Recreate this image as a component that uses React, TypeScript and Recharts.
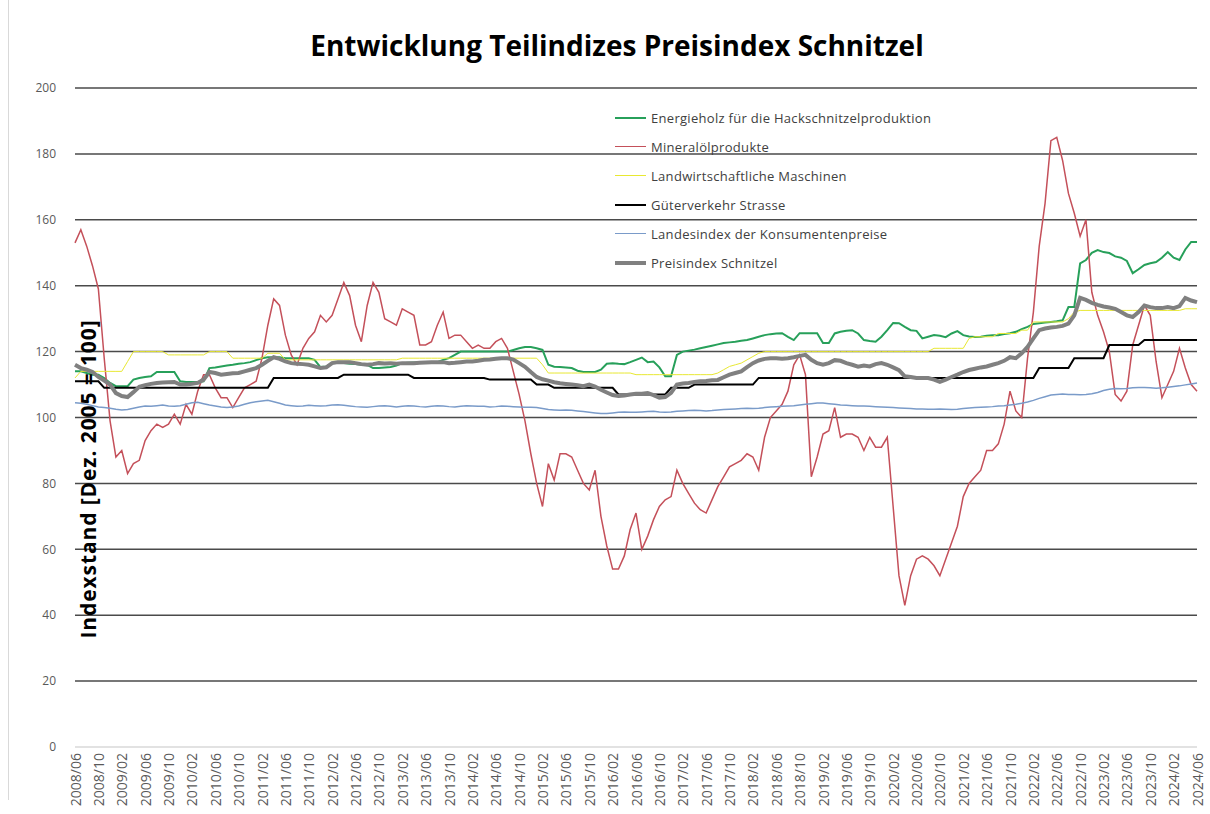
import { CartesianGrid, Line, LineChart, XAxis, YAxis } from 'recharts';

const FONT = '"Open Sans", "Liberation Sans", sans-serif';

// monthly categories 2008/06 .. 2024/06
const MONTHS: string[] = [];
for (let y = 2008, m = 6; y < 2024 || (y === 2024 && m <= 6); ) {
  MONTHS.push(`${y}/${String(m).padStart(2, '0')}`);
  m++;
  if (m > 12) { m = 1; y++; }
}

const Y_TICKS = [0, 20, 40, 60, 80, 100, 120, 140, 160, 180, 200];
const GRID_VALUES = [20, 40, 60, 80, 100, 120, 140, 160, 180, 200];

const energieholz = [
  114, 114, 113.5, 113, 113, 112, 110.5, 109.5, 109.5, 109.5,
  111.5, 112, 112.3, 112.5, 113.8, 113.8, 113.8, 113.8, 111, 110.8,
  110.8, 110.8, 111, 115, 115.2, 115.5, 115.8, 116, 116.3, 116.5,
  116.8, 117.4, 118, 118.3, 118.3, 118.3, 118, 118, 118, 118,
  118, 117.5, 115.3, 115.5, 116.5, 116.8, 116.5, 116.3, 116.2, 116,
  116, 115, 115, 115.2, 115.3, 115.8, 116.5, 116.6, 116.7, 116.8,
  116.8, 116.8, 116.8, 117.5, 118, 119, 120, 120, 120, 120,
  120, 120, 120, 120, 120, 120.5, 121, 121.4, 121.4, 121,
  120.5, 116, 115.4, 115.3, 115.2, 115, 114.2, 113.8, 113.8, 113.8,
  114.5, 116.3, 116.5, 116.3, 116.2, 116.8, 117.5, 118.2, 116.8, 117,
  115.2, 112.5, 112.5, 119, 120, 120.3, 120.6, 121, 121.4, 121.8,
  122.2, 122.6, 122.8, 123, 123.3, 123.5, 124, 124.5, 125, 125.3,
  125.5, 125.6, 124.5, 123.5, 125.6, 125.6, 125.6, 125.6, 122.6, 122.6,
  125.5, 126, 126.3, 126.5, 125.5, 123.5, 123.2, 123, 124.5, 126.5,
  128.7, 128.6, 127.5, 126.5, 126.3, 124, 124.5, 125, 124.8, 124.4,
  125.5, 126.2, 125, 124.6, 124.4, 124.5, 124.8, 125, 125, 125.3,
  125.6, 126, 126.8, 127.5, 128.4, 128.6, 128.8, 129, 129.2, 129.5,
  133.5, 133.5, 146.8, 147.8, 150, 150.8, 150.2, 149.9, 148.9, 148.5,
  147.5, 143.8, 145, 146.3, 146.8, 147.2, 148.5, 150.2, 148.5, 147.8,
  151, 153.3, 153.3,
];

const mineraloel = [
  153, 157, 152, 146, 139, 118, 99, 88, 90, 83,
  86, 87, 93, 96, 98, 97, 98, 101, 98, 104,
  101, 108, 113, 113, 109, 106, 106, 103, 106, 109,
  110, 111, 118, 128, 136, 134, 125, 119, 116, 121,
  124, 126, 131, 129, 131, 136, 141, 137, 128, 123,
  134, 141, 138, 130, 129, 128, 133, 132, 131, 122,
  122, 123, 128, 132, 124, 125, 125, 123, 121, 122,
  121, 121, 123, 124, 121, 114, 107, 99, 89, 80,
  73, 86, 81, 89, 89, 88, 84, 80, 78, 84,
  70, 61, 54, 54, 58, 66, 71, 60, 64, 69,
  73, 75, 76, 84, 80, 77, 74, 72, 71, 75,
  79, 82, 85, 86, 87, 89, 88, 84, 94, 100,
  102, 104, 108, 116, 119, 113, 82, 88, 95, 96,
  103, 94, 95, 95, 94, 90, 94, 91, 91, 94,
  73, 52, 43, 52, 57, 58, 57, 55, 52, 57,
  62, 67, 76, 80, 82, 84, 90, 90, 92, 98,
  108, 102, 100, 118, 132, 152, 165, 184, 185, 178,
  168, 162, 155, 160, 138, 131, 126, 120, 107, 105,
  108, 122, 128, 134, 131, 117, 106, 110, 114, 121,
  115, 110, 108,
];

const maschinen = [
  112, 114, 114, 114, 114, 114, 114, 114, 114, 117,
  120, 120, 120, 120, 120, 120, 119, 119, 119, 119,
  119, 119, 119, 120, 120, 120, 120, 118, 118, 118,
  118, 118, 118, 119.5, 119.5, 119.5, 117.5, 117.5, 117.5, 117.5,
  117.5, 117.5, 117.5, 117.5, 117.5, 117.5, 117.5, 117.5, 117.5, 117.5,
  117.5, 117.5, 117.5, 117.5, 117.5, 117.5, 118, 118, 118, 118,
  118, 118, 118, 118, 118, 118, 118, 118, 118, 118,
  118, 118, 118, 118, 118, 118, 118, 118, 118, 118,
  116, 113.5, 113.5, 113.5, 113.5, 113.5, 113.5, 113.5, 113.5, 113.5,
  113.5, 113.5, 113.5, 113.5, 113.5, 113.5, 113, 113, 113, 113,
  113, 113, 113, 113, 113, 113, 113, 113, 113, 113,
  113.5, 114.5, 115.5, 116, 116.5, 117.5, 118.5, 119.5, 120, 120,
  120, 120, 120, 120, 120, 120, 120, 120, 120, 120,
  120, 120, 120, 120, 120, 120, 120, 120, 120, 120,
  120, 120, 120, 120, 120, 120, 120, 121, 121, 121,
  121, 121, 121, 124, 124.5, 124.5, 124.5, 124.5, 125.5, 125.5,
  125.5, 125.5, 126.5, 126.5, 129, 129, 129, 129, 129, 129,
  130, 132, 132.5, 132.5, 132.5, 132.5, 132.5, 132.5, 132.5, 132.5,
  132.5, 132.5, 132.5, 132.5, 132.5, 132.5, 132.5, 132.5, 132.5, 132.5,
  133, 133, 133,
];

const gueterverkehr = [
  111, 111, 111, 111, 111, 109, 109, 109, 109, 109,
  109, 109, 109, 109, 109, 109, 109, 109, 109, 109,
  109, 109, 109, 109, 109, 109, 109, 109, 109, 109,
  109, 109, 109, 109, 112, 112, 112, 112, 112, 112,
  112, 112, 112, 112, 112, 112, 113, 113, 113, 113,
  113, 113, 113, 113, 113, 113, 113, 113, 112, 112,
  112, 112, 112, 112, 112, 112, 112, 112, 112, 112,
  112, 111.5, 111.5, 111.5, 111.5, 111.5, 111.5, 111.5, 111.5, 110,
  110, 110, 109, 109, 109, 109, 109, 109, 109, 109,
  109, 109, 109, 107, 107, 107, 107, 107, 107, 107,
  107, 107, 109, 109, 109, 109, 110, 110, 110, 110,
  110, 110, 110, 110, 110, 110, 110, 112, 112, 112,
  112, 112, 112, 112, 112, 112, 112, 112, 112, 112,
  112, 112, 112, 112, 112, 112, 112, 112, 112, 112,
  112, 112, 112, 112, 112, 112, 112, 112, 112, 112,
  112, 112, 112, 112, 112, 112, 112, 112, 112, 112,
  112, 112, 112, 112, 112, 115, 115, 115, 115, 115,
  115, 118, 118, 118, 118, 118, 118, 122, 122, 122,
  122, 122, 122, 123.5, 123.5, 123.5, 123.5, 123.5, 123.5, 123.5,
  123.5, 123.5, 123.5,
];

const konsumentenpreise = [
  104.5, 104.3, 104, 103.6, 103.2, 103, 102.8, 102.5, 102.3, 102.4,
  102.8, 103.2, 103.5, 103.4, 103.6, 103.8, 103.5, 103.4, 103.6, 104,
  104.5, 104.6, 104.2, 103.8, 103.5, 103.2, 103, 103.2, 103.5, 104,
  104.5, 104.8, 105, 105.2, 104.8, 104.3, 103.8, 103.6, 103.4, 103.5,
  103.7, 103.6, 103.5, 103.6, 103.8, 103.9, 103.7, 103.5, 103.3, 103.2,
  103.1, 103.3, 103.5, 103.6, 103.4, 103.2, 103.4, 103.6, 103.5, 103.3,
  103.2, 103.4, 103.6, 103.5, 103.3, 103.2, 103.4, 103.6, 103.5, 103.4,
  103.4, 103.2, 103.3, 103.5, 103.4, 103.3, 103.2, 103.1, 103.1, 103,
  102.7, 102.4, 102.3, 102.2, 102.3, 102.2, 102, 101.8, 101.6, 101.4,
  101.2, 101.2, 101.4, 101.6, 101.7, 101.6, 101.6, 101.7, 101.8, 101.9,
  101.7, 101.6, 101.7, 101.9, 102, 102.1, 102.2, 102.1, 102, 102.1,
  102.3, 102.4, 102.5, 102.6, 102.7, 102.8, 102.7, 102.8, 103, 103.2,
  103.3, 103.4, 103.5, 103.6, 103.8, 104, 104.2, 104.4, 104.4, 104.2,
  104, 103.8, 103.7, 103.6, 103.5, 103.5, 103.4, 103.3, 103.2, 103.1,
  103, 102.9, 102.8, 102.7, 102.6, 102.6, 102.5, 102.5, 102.6, 102.5,
  102.4, 102.5, 102.7, 102.9, 103, 103.1, 103.2, 103.3, 103.5, 103.6,
  103.8, 104, 104.3, 104.7, 105.2, 105.8, 106.3, 106.8, 107, 107.1,
  107, 107, 106.9, 107, 107.2, 107.6, 108.2, 108.6, 108.8, 108.7,
  108.8, 109, 109.1, 109.1, 109, 108.9, 109, 109.2, 109.4, 109.6,
  109.9, 110.2, 110.5,
];

const schnitzel = [
  116, 115, 114.5, 113.8, 112.3, 111.2, 110, 107.4, 106.5, 106.2,
  107.7, 109.3, 109.8, 110.2, 110.5, 110.6, 110.7, 110.8, 110, 110,
  110.2, 110.5, 111.5, 113.8, 113.5, 113, 113.2, 113.4, 113.5, 114,
  114.5, 115, 116, 117.2, 118.3, 117.8, 117, 116.5, 116.3, 116.2,
  116, 115.5, 115, 115.2, 116.5, 116.8, 116.8, 116.8, 116.5, 116.2,
  116, 116.2, 116.5, 116.4, 116.5, 116.3, 116.5, 116.5, 116.5, 116.6,
  116.7, 116.8, 116.8, 116.8, 116.5, 116.6, 116.8, 117, 117, 117.2,
  117.5, 117.6, 117.8, 118, 118, 117.6, 116.5, 115.4, 113.8, 112.3,
  111.6, 111.2, 110.7, 110.4, 110.2, 110, 109.8, 109.5, 110, 109.4,
  108.4, 107.6, 106.8, 106.5, 106.7, 107, 107.2, 107.2, 107.4, 106.8,
  106, 106.2, 107.5, 110, 110.3, 110.5, 110.8, 111, 111.1, 111.3,
  111.4, 112.2, 113, 113.5, 114, 115.3, 116.5, 117.3, 117.8, 118,
  118, 117.8, 118, 118.3, 118.7, 119, 117.5, 116.5, 116, 116.5,
  117.4, 117.2, 116.5, 116, 115.4, 115.8, 115.5, 116.2, 116.5, 116,
  115.2, 114.4, 112.5, 112.3, 112, 112, 112, 111.5, 110.8, 111.5,
  112.3, 113, 113.8, 114.4, 114.8, 115.2, 115.5, 116, 116.5, 117.2,
  118.3, 118, 119.5, 121.4, 124, 126.5, 127, 127.3, 127.5, 127.8,
  128.5, 131, 136.3, 135.7, 134.8, 134.2, 133.7, 133.4, 133, 132,
  131, 130.5, 132, 134, 133.5, 133.2, 133.2, 133.5, 133.2, 133.8,
  136.3, 135.5, 135,
];

const SERIES = [
  { key: 'energieholz', name: 'Energieholz für die Hackschnitzelproduktion', values: energieholz, color: '#27a05a', width: 2 },
  { key: 'mineraloel', name: 'Mineralölprodukte', values: mineraloel, color: '#c4505a', width: 1.5 },
  { key: 'maschinen', name: 'Landwirtschaftliche Maschinen', values: maschinen, color: '#e8e832', width: 1 },
  { key: 'gueterverkehr', name: 'Güterverkehr Strasse', values: gueterverkehr, color: '#000000', width: 2 },
  { key: 'konsumentenpreise', name: 'Landesindex der Konsumentenpreise', values: konsumentenpreise, color: '#7a9bc9', width: 1.5 },
  { key: 'schnitzel', name: 'Preisindex Schnitzel', values: schnitzel, color: '#808080', width: 4 },
];

const rows = MONTHS.map((month, i) => {
  const row: Record<string, string | number> = { month };
  SERIES.forEach((s) => { row[s.key] = s.values[i]; });
  return row;
});

function MonthTick({ x, y, payload }: any) {
  return (
    <text
      x={x}
      y={y - 2}
      transform={`rotate(-90, ${x}, ${y - 2})`}
      textAnchor="end"
      dominantBaseline="central"
      fontSize={14}
      fill="#595959"
      fontFamily={FONT}
    >
      {payload.value}
    </text>
  );
}

export default function App() {
  return (
    <div style={{ position: 'absolute', left: 0, top: 0, width: 1210, height: 814, background: '#fff', overflow: 'hidden', fontFamily: FONT }}>
      <div style={{ position: 'absolute', left: 8, top: 0, width: 1, height: 800, background: '#d9d9d9' }} />
      <div style={{ position: 'absolute', left: 22, top: 27, width: 1190, textAlign: 'center', fontSize: 28, fontWeight: 700, lineHeight: '36px', color: '#000' }}>
        Entwicklung Teilindizes Preisindex Schnitzel
      </div>
      <LineChart width={1210} height={814} data={rows} margin={{ top: 88, right: 13, bottom: 0, left: 0 }}>
        <CartesianGrid vertical={false} horizontalValues={GRID_VALUES} stroke="#4a4a4a" strokeWidth={1.5} />
        <XAxis
          dataKey="month"
          interval={3}
          tick={<MonthTick />}
          tickLine={false}
          axisLine={{ stroke: '#d9d9d9', strokeWidth: 1.5 }}
          height={67}
        />
        <YAxis
          domain={[0, 200]}
          ticks={Y_TICKS}
          width={75}
          tickLine={false}
          axisLine={false}
          tickMargin={13}
          tick={{ fontSize: 12, fill: '#595959', fontFamily: FONT }}
        />
        {SERIES.map((s) => (
          <Line
            key={s.key}
            dataKey={s.key}
            name={s.name}
            stroke={s.color}
            strokeWidth={s.width}
            dot={false}
            activeDot={false}
            isAnimationActive={false}
          />
        ))}
      </LineChart>
      <div style={{ position: 'absolute', left: 615, top: 103 }}>
        {SERIES.map((s) => (
          <div key={s.key} style={{ display: 'flex', alignItems: 'center', height: 29 }}>
            <div style={{ width: 31, height: s.width, background: s.color, marginRight: 5 }} />
            <span style={{ fontSize: 13, letterSpacing: 0.3, color: '#404040', whiteSpace: 'nowrap' }}>{s.name}</span>
          </div>
        ))}
      </div>
      <div
        style={{
          position: 'absolute',
          left: 88,
          top: 479,
          transform: 'translate(-50%, -50%) rotate(-90deg)',
          whiteSpace: 'nowrap',
          fontSize: 21,
          letterSpacing: 0.9,
          fontWeight: 700,
          color: '#000',
        }}
      >
        Indexstand [Dez. 2005 = 100]
      </div>
    </div>
  );
}
